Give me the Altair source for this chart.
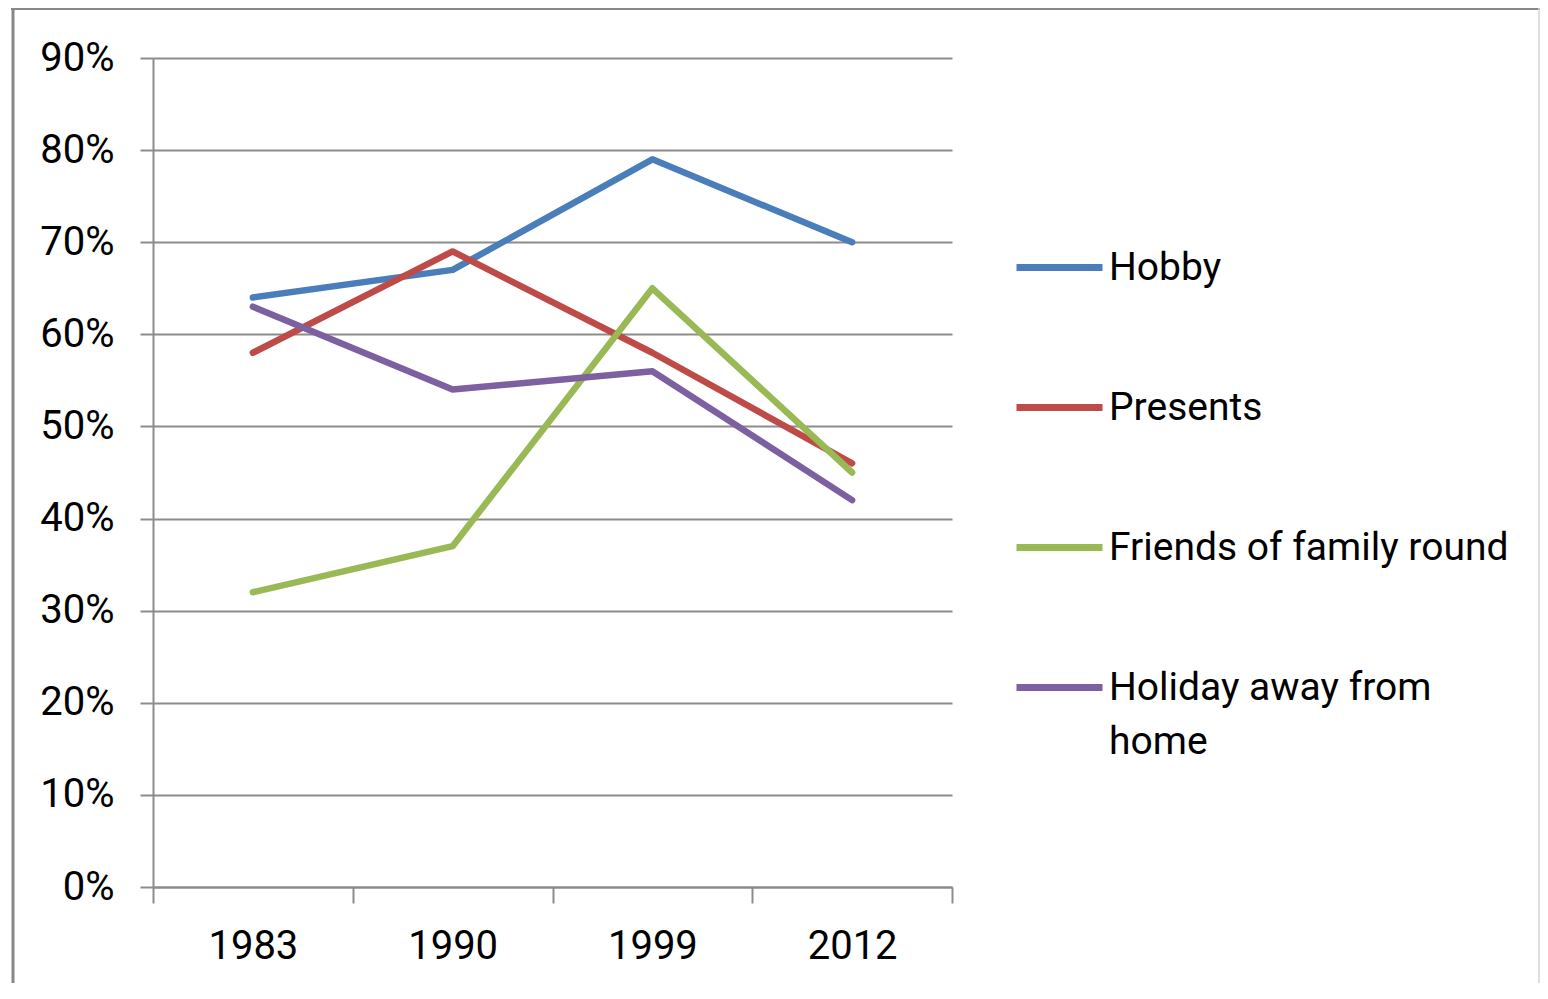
import altair as alt
import pandas as pd

# ---- data ----
years = ["1983", "1990", "1999", "2012"]
series = ["Hobby", "Presents", "Friends of family round", "Holiday away from home"]
hobby = [64, 67, 79, 70]
presents = [58, 69, 58, 46]
friends = [32, 37, 65, 45]
holiday = [63, 54, 56, 42]
y_ticks = [0, 10, 20, 30, 40, 50, 60, 70, 80, 90]
colors = ["#4A7EBB", "#BE4B48", "#98B954", "#7D60A0"]

rows = []
for name, vals in zip(series, [hobby, presents, friends, holiday]):
    for i, (yr, v) in enumerate(zip(years, vals)):
        rows.append({"series": name, "year": yr, "pos": i + 0.5, "value": v})
df = pd.DataFrame(rows)

W, H = 799, 829
FONT = "Roboto"
GRID = "#8c8c8c"
FS_AXIS = 40
FS_LEG = 39

year_expr = "[" + ",".join(f"'{y}'" for y in years) + "]"
x_label_expr = f"datum.value % 1 == 0.5 ? {year_expr}[floor(datum.value)] : ''"
x_values = [i * 0.5 for i in range(2 * len(years) + 1)]

legend_expr = "datum.label == 'Holiday away from home' ? ['Holiday away from', 'home'] : datum.label"

lines = alt.Chart(df).mark_line(
    strokeWidth=6.5, strokeCap="round", strokeJoin="round"
).encode(
    x=alt.X(
        "pos:Q",
        scale=alt.Scale(domain=[0, len(years)], nice=False, zero=False),
        axis=alt.Axis(
            values=x_values, labelExpr=x_label_expr, title=None, grid=False,
            tickSize=16, tickWidth=2, tickColor=GRID,
            tickOpacity={"condition": {"test": "datum.value % 1 == 0", "value": 1}, "value": 0},
            domainColor=GRID, domainWidth=2,
            labelFont=FONT, labelFontSize=FS_AXIS, labelColor="#000000",
            labelPadding=23, labelOverlap=False, labelFlush=False,
        ),
    ),
    y=alt.Y(
        "value:Q",
        scale=alt.Scale(domain=[0, 90], nice=False),
        axis=alt.Axis(
            values=y_ticks, labelExpr="datum.value + '%'", title=None,
            grid=True, gridColor=GRID, gridWidth=2,
            tickSize=13, tickWidth=2, tickColor=GRID,
            domainColor=GRID, domainWidth=2,
            labelFont=FONT, labelFontSize=FS_AXIS, labelColor="#000000",
            labelPadding=26, labelOverlap=False,
        ),
    ),
    color=alt.Color(
        "series:N",
        sort=series,
        scale=alt.Scale(domain=series, range=colors),
        legend=alt.Legend(
            title=None, orient="none", legendX=860, legendY=163,
            direction="vertical", columns=1,
            symbolType="stroke", symbolSize=86 * 86, symbolStrokeWidth=7,
            labelFont=FONT, labelFontSize=FS_LEG, labelColor="#000000",
            labelOffset=3, labelLimit=800, labelExpr=legend_expr,
            rowPadding=73, padding=0,
        ),
    ),
)

frame = pd.DataFrame({"k": [0]})
left_border = alt.Chart(frame).mark_rule(color="#888888", strokeWidth=3).encode(
    x=alt.value(-140), y=alt.value(-50), y2=alt.value(H + 120)
)
top_border = alt.Chart(frame).mark_rule(color="#888888", strokeWidth=4).encode(
    x=alt.value(-142), x2=alt.value(1390), y=alt.value(-50)
)
right_border = alt.Chart(frame).mark_rule(color="#d4d4d4", strokeWidth=1.5).encode(
    x=alt.value(1386), y=alt.value(-50), y2=alt.value(H + 120)
)

chart = alt.layer(lines, left_border, top_border, right_border).properties(
    width=W, height=H,
    autosize=alt.AutoSizeParams(type="none"),
    padding={"left": 145, "top": 50, "right": 588, "bottom": 96},
    background="#ffffff",
).configure(style={"guide-label": {"lineHeight": 54}}).configure_view(stroke=None)

chart.save("out.html", embed_options={"renderer": "svg", "actions": False})
